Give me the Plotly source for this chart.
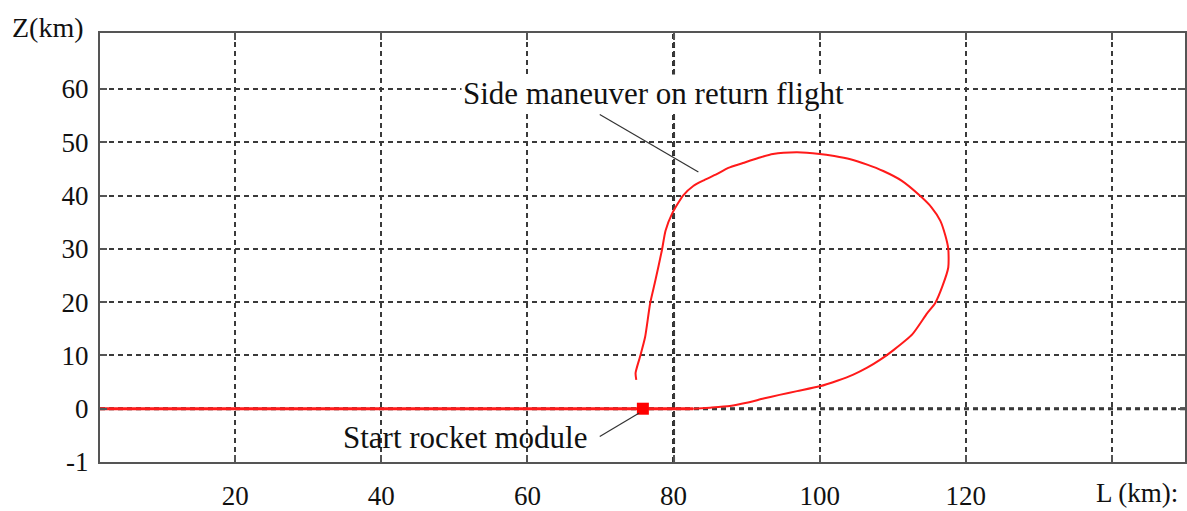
import plotly.graph_objects as go

# Ground track of the carrier along the L axis (Z = 0)
ground_L = [1.5, 82.7]
ground_Z = [0, 0]

# Return-flight trajectory of the rocket module after the side maneuver
traj_L = [82.7, 85.0, 87.7, 90.0, 92.3, 94.5, 96.9, 100.0, 102.5, 104.6, 106.5,
          108.3, 110.1, 112.7, 114.7, 115.8, 116.8, 117.6, 117.6, 117.2, 116.5,
          115.3, 113.7, 111.2, 108.7, 106.5, 104.2, 102.0, 100.0, 96.9, 93.6,
          91.5, 89.5, 87.5, 85.9, 84.2, 82.7, 81.3, 79.8, 78.9, 78.4, 77.5,
          76.8, 76.1, 75.4, 74.8, 74.9]
traj_Z = [0.0, 0.2, 0.5, 1.1, 1.9, 2.6, 3.3, 4.2, 5.3, 6.4, 7.7,
          9.2, 11.0, 14.0, 17.9, 19.8, 23.0, 26.5, 30.0, 32.5, 35.3,
          37.8, 40.0, 42.8, 44.6, 45.8, 46.8, 47.4, 47.8, 48.1, 47.8,
          47.0, 46.1, 45.2, 44.0, 42.9, 41.8, 40.0, 36.6, 33.4, 29.7, 24.0,
          19.8, 13.4, 9.7, 6.7, 5.4]

# Launch point of the rocket module
start_L = [75.8]
start_Z = [0]

# Axis ticks
x_tickvals = [20, 40, 60, 80, 100, 120, 140]
x_ticktext = ["20", "40", "60", "80", "100", "120", ""]
y_tickvals = [-10, 0, 10, 20, 30, 40, 50, 60]
y_ticktext = ["-1", "0", "10", "20", "30", "40", "50", "60"]

# Callout positions (text anchor, leader line from -> to)
maneuver_text_pos = (77.2, 59.1)
maneuver_leader = (69.9, 55.2, 83.4, 44.4)
start_text_pos = (51.5, -5.4)
start_leader = (69.9, -5.2, 75.3, -0.8)

SERIF = "Liberation Serif"
INK = "#111111"
GRID = "#3a3a3a"
SPINE = "#555555"
RED = "#ff1a1a"

fig = go.Figure()

fig.add_trace(go.Scatter(x=ground_L, y=ground_Z, mode="lines",
                         line=dict(color=RED, width=3), hoverinfo="skip"))
fig.add_trace(go.Scatter(x=traj_L, y=traj_Z, mode="lines",
                         line=dict(color=RED, width=2, shape="spline", smoothing=0.6),
                         hoverinfo="skip"))
fig.add_trace(go.Scatter(x=start_L, y=start_Z, mode="markers",
                         marker=dict(symbol="square", size=12, color="#ff0000",
                                     line=dict(width=0)),
                         hoverinfo="skip"))

# Heavier dotted reference lines at L = 80 km and Z = 0
fig.add_shape(type="line", xref="x", yref="paper", x0=80, x1=80, y0=0, y1=1,
              line=dict(color="#2a2a2a", width=3, dash="5px,4px"), layer="below")
fig.add_shape(type="line", xref="paper", yref="y", x0=0, x1=1, y0=0, y1=0,
              line=dict(color="#2a2a2a", width=3, dash="5px,4px"), layer="below")

# Leader lines of the callouts
for (xa, ya, xb, yb) in (maneuver_leader, start_leader):
    fig.add_shape(type="line", xref="x", yref="y", x0=xa, y0=ya, x1=xb, y1=yb,
                  line=dict(color="#333333", width=1.2))

annotations = [
    dict(x=maneuver_text_pos[0], y=maneuver_text_pos[1], xref="x", yref="y",
         text="Side maneuver on return flight", showarrow=False,
         xanchor="center", yanchor="middle", bgcolor="white",
         font=dict(family=SERIF, size=31, color=INK)),
    dict(x=start_text_pos[0], y=start_text_pos[1], xref="x", yref="y",
         text="Start rocket module", showarrow=False,
         xanchor="center", yanchor="middle",
         font=dict(family=SERIF, size=31, color=INK)),
    dict(x=0, y=1, xref="paper", yref="paper", text="Z(km)", showarrow=False,
         xanchor="right", yanchor="middle", xshift=-14, yshift=6,
         font=dict(family=SERIF, size=28, color=INK)),
    dict(x=1, y=0, xref="paper", yref="paper", text="L (km):", showarrow=False,
         xanchor="right", yanchor="bottom", xshift=-5, yshift=-48,
         font=dict(family=SERIF, size=27, color=INK)),
]

fig.update_layout(
    width=1187, height=511,
    margin=dict(l=100, r=2, t=33, b=49),
    paper_bgcolor="white", plot_bgcolor="white",
    showlegend=False,
    annotations=annotations,
    font=dict(family=SERIF, size=27, color=INK),
)

fig.update_xaxes(
    range=[1.5, 150], tickvals=x_tickvals, ticktext=x_ticktext, automargin=False,
    showgrid=True, gridcolor=GRID, gridwidth=1.5, griddash="5px,4px",
    zeroline=False, showline=True, linecolor=SPINE, linewidth=2, mirror="ticks",
    ticks="inside", ticklen=7, tickwidth=2, tickcolor=SPINE,
    ticklabelstandoff=9, tickfont=dict(family=SERIF, size=27, color=INK),
)
fig.update_yaxes(
    range=[-10, 70.5], tickvals=y_tickvals, ticktext=y_ticktext, automargin=False,
    showgrid=True, gridcolor=GRID, gridwidth=1.5, griddash="5px,4px",
    zeroline=False, showline=True, linecolor=SPINE, linewidth=2, mirror="ticks",
    ticks="inside", ticklen=7, tickwidth=2, tickcolor=SPINE,
    ticklabelstandoff=4, tickfont=dict(family=SERIF, size=27, color=INK),
)

fig.write_html("out.html")
